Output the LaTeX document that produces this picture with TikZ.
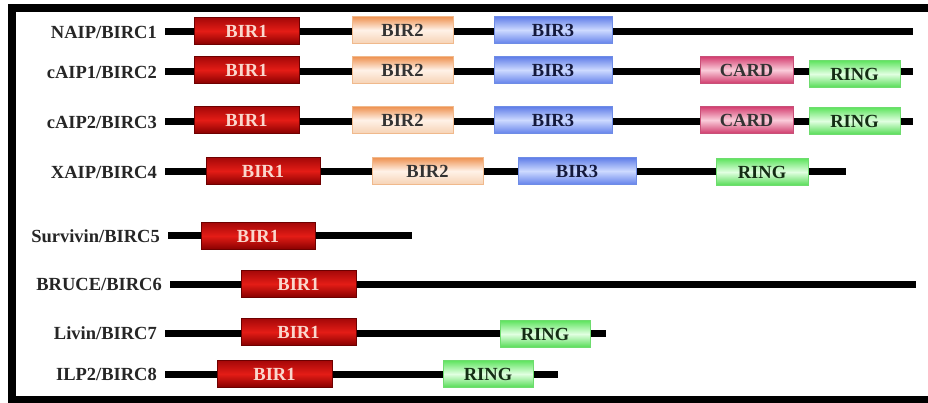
\documentclass[tikz,border=0pt]{standalone}
\usepackage{fontspec}
\setmainfont{Liberation Serif}
\definecolor{raT}{RGB}{165,8,8}
\definecolor{raM}{RGB}{228,28,22}
\definecolor{raB}{RGB}{135,0,0}
\definecolor{raD}{RGB}{110,0,0}
\definecolor{raX}{RGB}{250,215,205}
\definecolor{obT}{RGB}{238,145,80}
\definecolor{obM}{RGB}{255,242,232}
\definecolor{obB}{RGB}{246,210,180}
\definecolor{obD}{RGB}{240,185,140}
\definecolor{bcT}{RGB}{95,125,232}
\definecolor{bcM}{RGB}{205,218,255}
\definecolor{bcB}{RGB}{100,130,235}
\definecolor{bcD}{RGB}{110,140,230}
\definecolor{bcX}{RGB}{20,25,60}
\definecolor{cdT}{RGB}{212,62,112}
\definecolor{cdM}{RGB}{250,205,218}
\definecolor{cdB}{RGB}{208,58,108}
\definecolor{cdD}{RGB}{200,80,120}
\definecolor{rgT}{RGB}{95,228,95}
\definecolor{rgM}{RGB}{225,255,225}
\definecolor{rgB}{RGB}{85,220,85}
\definecolor{rgD}{RGB}{110,220,110}
\definecolor{rgX}{RGB}{20,45,20}
\begin{document}
\begin{tikzpicture}[x=1pt,y=-1pt,
  lbl/.style={anchor=east, inner sep=0pt, text=black!85, font=\bfseries\fontsize{18.5}{19}\selectfont},
  chain/.style={line width=7pt, black},
  dom/.style={minimum height=27pt, inner sep=0pt, line width=0.6pt, font=\bfseries\fontsize{18.5}{19}\selectfont},
  bira/.style={dom, draw=raD, top color=raT, bottom color=raB, middle color=raM, text=raX},
  birb/.style={dom, draw=obD, top color=obT, bottom color=obB, middle color=obM, text=black!80},
  birc/.style={dom, draw=bcD, top color=bcT, bottom color=bcB, middle color=bcM, text=bcX},
  card/.style={dom, draw=cdD, top color=cdT, bottom color=cdB, middle color=cdM, text=black!80},
  ring/.style={dom, draw=rgD, top color=rgT, bottom color=rgB, middle color=rgM, text=rgX}
]
\useasboundingbox (0,0) rectangle (928,403);
\fill[white] (0,0) rectangle (928,403);
% frame
\fill[black] (8,4) rectangle (928,12);
\fill[black] (8,4) rectangle (16,403);
\fill[black] (8,396) rectangle (928,403);

\newcommand\dom[6]{\node[#2, minimum width={(#4-#3)*1pt}] (#1) at ({(#3+#4)/2},#5) {#6};}
\newcommand\prot[5]{%
  \coordinate (#1s) at (#3,#2);
  \coordinate (#1e) at (#4,#2);
  \draw[chain] (#1s) -- (#1e);
  \node[lbl] (#1l) at ({#3-8},#2) {#5};}

% Row 1
\prot{r1}{32}{165}{913}{NAIP/BIRC1}
\dom{r1a}{bira}{194}{299}{31}{BIR1}
\dom{r1b}{birb}{352}{453}{30}{BIR2}
\dom{r1c}{birc}{494}{612}{30}{BIR3}
% Row 2
\prot{r2}{72}{165}{913}{cAIP1/BIRC2}
\dom{r2a}{bira}{194}{299}{70}{BIR1}
\dom{r2b}{birb}{352}{453}{70}{BIR2}
\dom{r2c}{birc}{494}{612}{70}{BIR3}
\dom{r2d}{card}{700}{793}{70}{CARD}
\dom{r2e}{ring}{809}{900}{74}{RING}
% Row 3
\prot{r3}{122}{165}{913}{cAIP2/BIRC3}
\dom{r3a}{bira}{194}{299}{120}{BIR1}
\dom{r3b}{birb}{352}{453}{120}{BIR2}
\dom{r3c}{birc}{494}{612}{120}{BIR3}
\dom{r3d}{card}{700}{793}{120}{CARD}
\dom{r3e}{ring}{809}{900}{121}{RING}
% Row 4
\prot{r4}{172}{165}{846}{XAIP/BIRC4}
\dom{r4a}{bira}{206}{320}{171}{BIR1}
\dom{r4b}{birb}{372}{483}{171}{BIR2}
\dom{r4c}{birc}{518}{636}{171}{BIR3}
\dom{r4e}{ring}{716}{808}{172}{RING}
% Row 5
\prot{r5}{236}{168}{412}{Survivin/BIRC5}
\dom{r5a}{bira}{201}{315}{236}{BIR1}
% Row 6
\prot{r6}{284}{170}{916}{BRUCE/BIRC6}
\dom{r6a}{bira}{241}{356}{284}{BIR1}
% Row 7
\prot{r7}{333}{165}{606}{Livin/BIRC7}
\dom{r7a}{bira}{241}{356}{332}{BIR1}
\dom{r7e}{ring}{500}{590}{334}{RING}
% Row 8
\prot{r8}{374}{165}{558}{ILP2/BIRC8}
\dom{r8a}{bira}{217}{332}{374}{BIR1}
\dom{r8e}{ring}{443}{533}{374}{RING}
\end{tikzpicture}
\end{document}
